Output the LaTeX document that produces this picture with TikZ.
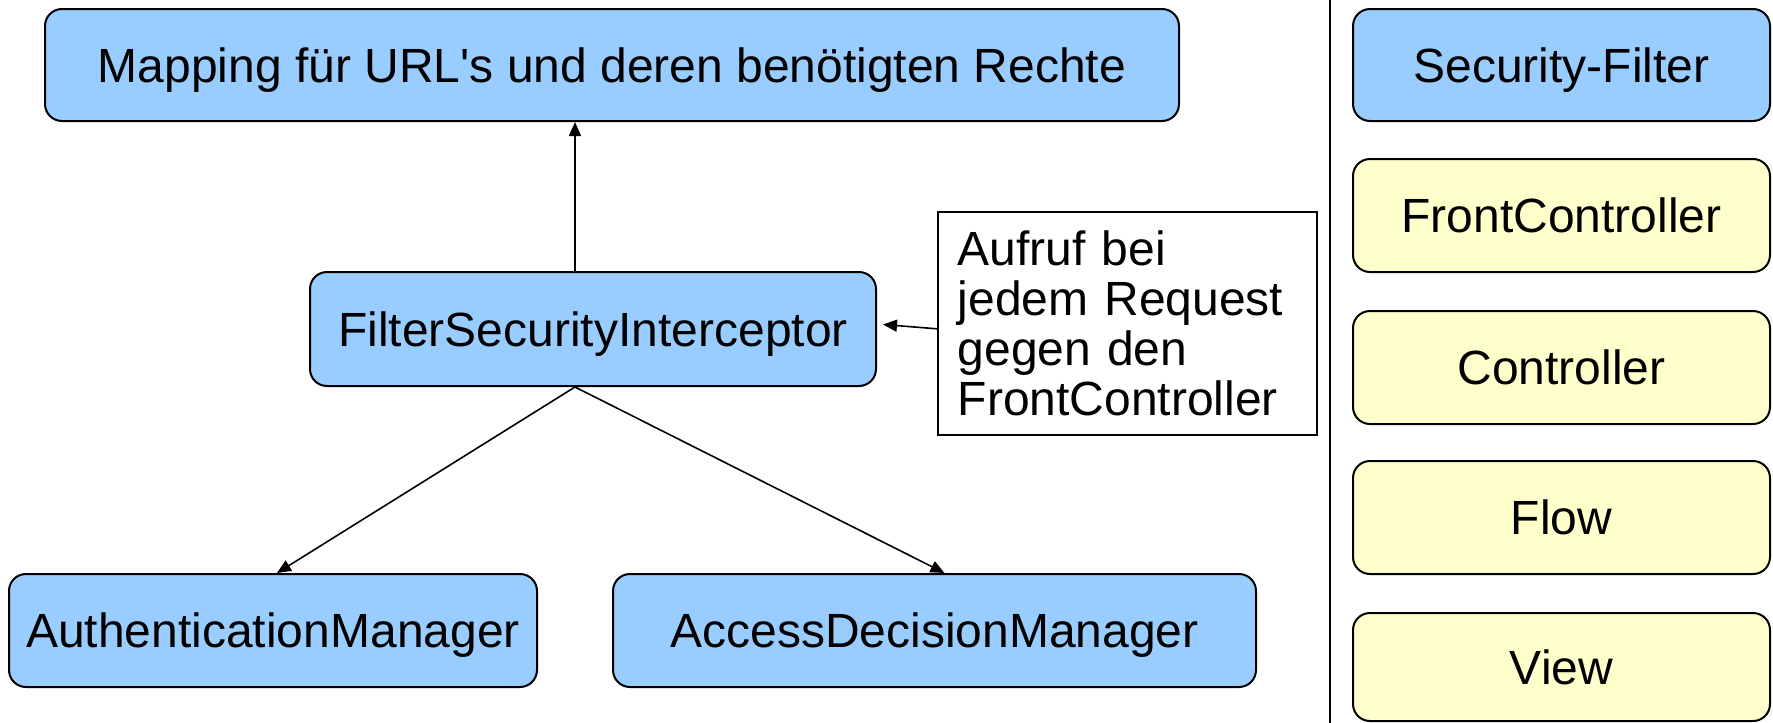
\documentclass[tikz,border=0pt]{standalone}
\usepackage{fontspec}
\setmainfont{Liberation Sans}
\usetikzlibrary{arrows.meta}
\definecolor{boxblue}{HTML}{99CCFF}
\definecolor{boxyellow}{HTML}{FFFFCC}
\begin{document}
\begin{tikzpicture}[x=0.5pt,y=-0.5pt,
  box/.style={draw=black, line width=1pt, rounded corners=8.5pt, font=\fontsize{24}{28}\selectfont, inner sep=0pt, text height=17.2pt, text depth=0pt},
  bluebox/.style={box, fill=boxblue},
  yellowbox/.style={box, fill=boxyellow, minimum width=208.5pt, minimum height=56.5pt},
  conn/.style={draw=black, line width=0.8pt, -{Triangle[length=7pt,width=6pt]}},
]
\useasboundingbox (0,0) rectangle (1773,723);
% left part
\node[bluebox, minimum width=567pt, minimum height=56pt] (top) at (612,65) {Mapping für URL\textquotesingle s und deren benötigten Rechte};
\node[bluebox, minimum width=283pt, minimum height=57pt] (fsi) at (593,329) {FilterSecurityInterceptor};
\node[bluebox, minimum width=264pt, minimum height=56.5pt] (authm) at (273,630.5) {AuthenticationManager};
\node[bluebox, minimum width=321.5pt, minimum height=56.5pt] (accm) at (934.5,630.5) {AccessDecisionManager};
\node[draw=black, line width=0.8pt, fill=white, anchor=north west, text width=169.5pt, inner xsep=10pt, inner ysep=0pt,
      minimum height=111.5pt, align=left, font=\fontsize{24}{25}\selectfont] (note) at (937,211)
      {Aufruf bei\\jedem Request\\gegen den\\FrontController};
% connectors
\draw[conn] ([xshift=-9pt]fsi.north) -- ([xshift=-9pt]fsi.north |- top.south);
\draw[conn] ([xshift=-9pt]fsi.south) -- ([xshift=2pt]authm.north);
\draw[conn] ([xshift=-9pt]fsi.south) -- ([xshift=5pt]accm.north);
\draw[conn] ([yshift=-2.75pt]note.west) -- ([xshift=3pt,yshift=2.25pt]fsi.east);
% divider
\draw[line width=0.8pt] (1330,0) -- (1330,723);
% right column
\node[bluebox, minimum width=208.5pt, minimum height=56pt] (sf) at (1561.5,65) {Security-Filter};
\node[yellowbox] (fc) at (1561.5,215.5) {FrontController};
\node[yellowbox] (ctrl) at (1561.5,367.5) {Controller};
\node[yellowbox] (flow) at (1561.5,517.5) {Flow};
\node[yellowbox, minimum height=54pt] (view) at (1561.5,667) {View};
\end{tikzpicture}
\end{document}
